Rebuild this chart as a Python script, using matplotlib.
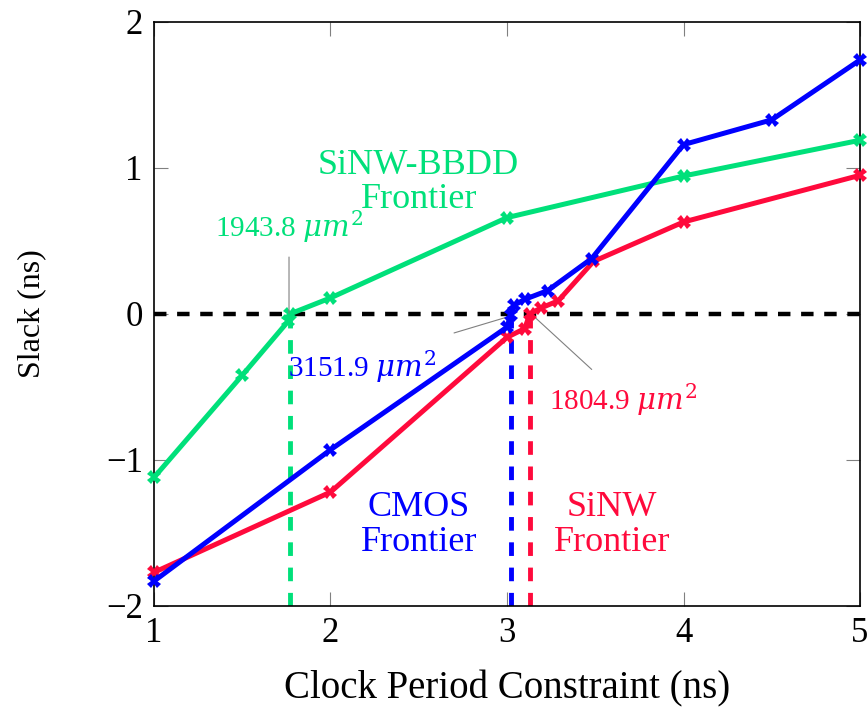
import matplotlib
matplotlib.use("Agg")
import matplotlib.pyplot as plt

# Data
bbdd_x = [1.0, 1.5, 1.76, 1.77, 2.0, 3.0, 4.0, 5.0]
bbdd_y = [-1.12, -0.42, -0.05, 0.0, 0.11, 0.66, 0.945, 1.19]
cmos_x = [1.0, 2.0, 3.0, 3.02, 3.04, 3.10, 3.23, 3.48, 4.0, 4.5, 5.0]
cmos_y = [-1.83, -0.93, -0.09, -0.01, 0.06, 0.10, 0.16, 0.38, 1.16, 1.33, 1.74]
sinw_x = [1.0, 2.0, 3.0, 3.10, 3.13, 3.19, 3.29, 3.49, 4.0, 5.0]
sinw_y = [-1.77, -1.22, -0.16, -0.10, 0.0, 0.04, 0.09, 0.36, 0.63, 0.95]

frontier_x = {"bbdd": 1.77, "cmos": 3.02, "sinw": 3.13}
area_labels = {"bbdd": r"1943.8 $\mu m^2$", "cmos": r"3151.9 $\mu m^2$", "sinw": r"1804.9 $\mu m^2$"}

xticks = [1, 2, 3, 4, 5]
yticks = [-2, -1, 0, 1, 2]

GREEN = "#00E07A"
BLUE = "#0000FF"
RED = "#FF0A3C"

plt.rcParams["font.family"] = ["Liberation Serif", "DejaVu Serif"]
plt.rcParams["mathtext.fontset"] = "dejavuserif"

fig = plt.figure(figsize=(8.68, 7.07), dpi=100)
ax = fig.add_axes([0.1774, 0.1429, 0.8134, 0.826])

ax.set_xlim(1, 5)
ax.set_ylim(-2, 2)

dash = (0, (2.8, 2.4))
# zero slack line
ax.axhline(0, color="black", lw=3.2, ls=dash, zorder=2)

# frontier verticals
ax.plot([frontier_x["bbdd"]] * 2, [-2, 0], color=GREEN, lw=3.5, ls=dash, zorder=2)
ax.plot([frontier_x["cmos"]] * 2, [-2, 0], color=BLUE, lw=3.5, ls=dash, zorder=2)
ax.plot([frontier_x["sinw"]] * 2, [-2, 0], color=RED, lw=3.5, ls=dash, zorder=2)

mk = dict(marker="X", markersize=9.5, markeredgewidth=0, lw=3.6, clip_on=False)
ax.plot(bbdd_x, bbdd_y, color=GREEN, zorder=3, **mk)
ax.plot(sinw_x, sinw_y, color=RED, zorder=4, **mk)
ax.plot(cmos_x, cmos_y, color=BLUE, zorder=5, **mk)

afs = 21
pin = dict(arrowstyle="-", color="gray", lw=0.8, shrinkA=0, shrinkB=0)
# pin lines
ax.annotate("", xy=(1.765, 0.005), xytext=(1.765, 0.39), arrowprops=pin)
ax.annotate("", xy=(2.99, -0.025), xytext=(2.70, -0.13), arrowprops=pin)
ax.annotate("", xy=(3.16, -0.025), xytext=(3.48, -0.38), arrowprops=pin)
# area labels
ax.text(1.765, 0.60, area_labels["bbdd"], color=GREEN, fontsize=afs, ha="center", va="center")
ax.text(1.76, -0.36, area_labels["cmos"], color=BLUE, fontsize=afs, ha="left", va="center")
ax.text(3.66, -0.59, area_labels["sinw"], color=RED, fontsize=afs, ha="center", va="center")

tfs = 26
ax.text(2.50, 0.90, "SiNW-BBDD\nFrontier", color=GREEN, fontsize=tfs, ha="center", va="center", linespacing=1.05)
ax.text(2.50, -1.445, "CMOS\nFrontier", color=BLUE, fontsize=tfs, ha="center", va="center", linespacing=1.05)
ax.text(3.595, -1.445, "SiNW\nFrontier", color=RED, fontsize=tfs, ha="center", va="center", linespacing=1.05)

ax.set_xticks(xticks)
ax.set_yticks(yticks)
ax.set_xticklabels([str(t) for t in xticks])
ax.set_yticklabels([("\u2212" + str(-t)) if t < 0 else str(t) for t in yticks])
ax.tick_params(direction="in", length=10, width=0.8, color="gray", labelsize=25, pad=8,
               top=True, right=True)
for s in ax.spines.values():
    s.set_linewidth(1.2)

ax.set_xlabel("Clock Period Constraint (ns)", fontsize=28)
ax.xaxis.set_label_coords(0.5, -0.11)
ax.set_ylabel("Slack (ns)", fontsize=23)
ax.yaxis.set_label_coords(-0.152, 0.5)

fig.savefig("out.png", dpi=100)
